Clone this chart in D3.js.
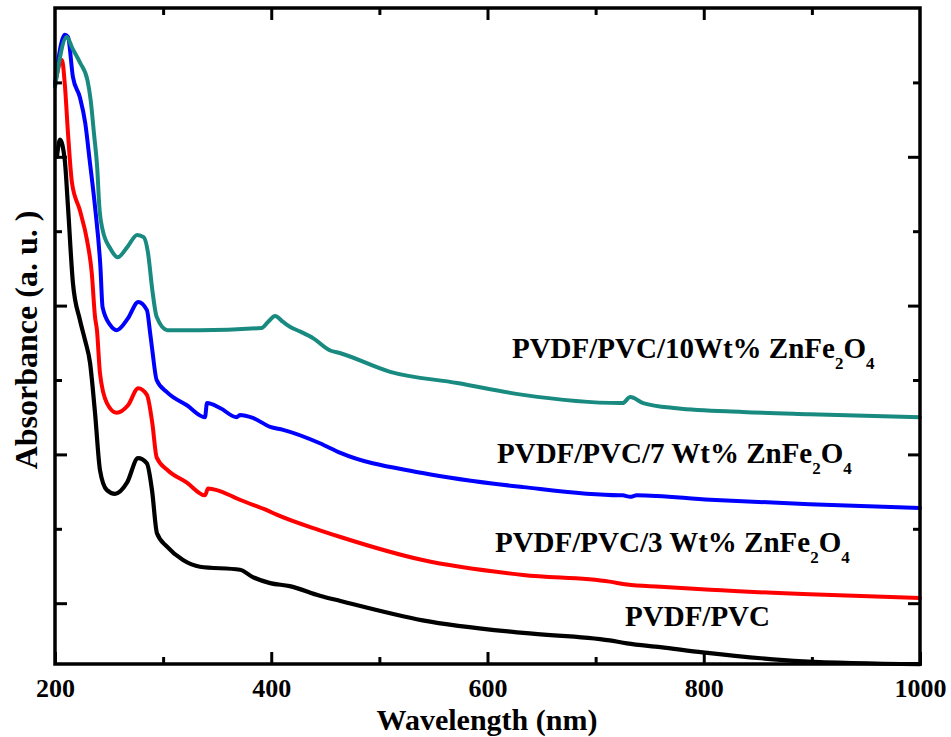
<!DOCTYPE html>
<html>
<head>
<meta charset="utf-8">
<script src="https://cdn.jsdelivr.net/npm/d3@7"></script>
<style>
  body { margin: 0; background: #fff; }
  svg { display: block; }
  text { font-family: "Liberation Serif", "Times New Roman", serif; font-weight: bold; fill: #000; }
</style>
</head>
<body>
<svg id="chart" width="951" height="737"></svg>
<script>
// wavelength (nm) / absorbance (a.u.)
const wlPure = [201.8, 204.6, 209, 212, 216.6, 223, 227.7, 232.4, 237, 241.6, 248, 255.5, 266.6, 276.8, 285, 289.7, 294.3, 303.6, 318.4, 334, 371, 383, 399, 417, 445, 464, 540, 633, 713, 729, 760, 799, 892, 1000];
const absPure = [0.800, 0.823, 0.796, 0.733, 0.630, 0.581, 0.554, 0.523, 0.456, 0.379, 0.352, 0.347, 0.362, 0.395, 0.388, 0.352, 0.294, 0.276, 0.258, 0.249, 0.245, 0.235, 0.227, 0.223, 0.210, 0.203, 0.177, 0.160, 0.150, 0.146, 0.141, 0.134, 0.122, 0.118];

const wl3 = [201, 206.5, 209, 212, 215.7, 223, 229.6, 234, 237, 238.8, 241.6, 248, 257, 267.5, 277, 285, 290, 294, 304, 322, 338.7, 341.5, 365, 371, 396, 405, 445, 464, 540, 633, 713, 729, 760, 806, 898, 1000];
const abs3 = [0.905, 0.930, 0.899, 0.832, 0.765, 0.728, 0.688, 0.644, 0.585, 0.567, 0.509, 0.469, 0.456, 0.466, 0.489, 0.480, 0.442, 0.396, 0.379, 0.362, 0.345, 0.354, 0.343, 0.339, 0.325, 0.319, 0.298, 0.289, 0.258, 0.238, 0.229, 0.225, 0.222, 0.218, 0.212, 0.207];

const wl7 = [200, 209, 212, 216.6, 223, 228, 232, 237, 242, 244, 251, 257, 267.5, 277, 285, 288, 290, 294, 304, 322, 338.7, 340.6, 353, 368, 371, 383, 399, 411, 445, 464, 540, 633, 722, 725, 732, 738, 806, 898, 1000];
const abs7 = [0.897, 0.964, 0.961, 0.907, 0.880, 0.845, 0.796, 0.733, 0.652, 0.598, 0.574, 0.567, 0.583, 0.605, 0.594, 0.563, 0.540, 0.500, 0.483, 0.466, 0.450, 0.469, 0.462, 0.450, 0.453, 0.449, 0.437, 0.433, 0.415, 0.402, 0.375, 0.356, 0.345, 0.345, 0.343, 0.345, 0.339, 0.333, 0.328];

const wl10 = [200, 211, 216, 223, 230, 233, 236, 239, 241, 244, 251, 258, 267, 276, 282, 286, 290, 294, 304, 334, 391, 397, 403.5, 411, 418, 427, 439, 454, 464, 510, 572, 633, 722, 725, 732, 744, 775, 836, 898, 1000];
const abs10 = [0.894, 0.961, 0.946, 0.927, 0.903, 0.876, 0.832, 0.786, 0.733, 0.702, 0.677, 0.665, 0.679, 0.695, 0.692, 0.671, 0.621, 0.585, 0.567, 0.567, 0.570, 0.578, 0.586, 0.578, 0.571, 0.565, 0.556, 0.540, 0.536, 0.511, 0.496, 0.480, 0.469, 0.469, 0.477, 0.469, 0.462, 0.457, 0.454, 0.450];

const xLabels = [200, 400, 600, 800, 1000];
const xMinor = [300, 500, 700, 900];
const yMajor = [0.2, 0.4, 0.6, 0.8];
const yMinor = [0.3, 0.5, 0.7, 0.9];

const series = [
  { name: "PVDF/PVC", wl: wlPure, abs: absPure, color: "#000000", width: 4.2 },
  { name: "3", wl: wl3, abs: abs3, color: "#ff0000", width: 4 },
  { name: "7", wl: wl7, abs: abs7, color: "#0000ff", width: 4 },
  { name: "10", wl: wl10, abs: abs10, color: "#198a80", width: 4 }
];

// label anchors in data space, text split for subscripts
const labels = [
  { at: [622.6, 0.5296], parts: [["PVDF/PVC/10Wt% ZnFe"], ["2", 1], ["O"], ["4", 1]] },
  { at: [608.8, 0.3885], parts: [["PVDF/PVC/7 Wt% ZnFe"], ["2", 1], ["O"], ["4", 1]] },
  { at: [606.9, 0.2688], parts: [["PVDF/PVC/3 Wt% ZnFe"], ["2", 1], ["O"], ["4", 1]] },
  { at: [727.2, 0.1694], parts: [["PVDF/PVC"]] }
];

const svg = d3.select("#chart"),
  pl = 55,
  pr = 920,
  pt = 8,
  pb = 664;

const x = d3.scaleLinear().domain([200, 1000]).range([pl, pr]);
const y = d3.scaleLinear().domain([0.11828, 1.0]).range([pb, pt]);

const line = d3
  .line()
  .x(d => x(d[0]))
  .y(d => y(d[1]))
  .curve(d3.curveMonotoneX);

svg
  .selectAll("path.curve")
  .data(series)
  .enter()
  .append("path")
  .attr("class", "curve")
  .attr("fill", "none")
  .attr("stroke", d => d.color)
  .attr("stroke-width", d => d.width)
  .attr("stroke-linejoin", "round")
  .attr("stroke-linecap", "round")
  .attr("d", d => line(d.wl.map((w, i) => [w, d.abs[i]])));

const styleTicks = g => {
  g.select(".domain").remove();
  g.selectAll(".tick line").attr("stroke", "#000").attr("stroke-width", 3);
};

// bottom
svg
  .append("g")
  .attr("transform", `translate(0,${pb})`)
  .call(
    d3
      .axisBottom(x)
      .tickValues(xLabels)
      .tickFormat(d3.format("d"))
      .tickSizeInner(-12)
      .tickSizeOuter(0)
  )
  .call(styleTicks)
  .call(g =>
    g
      .selectAll(".tick text")
      .attr("y", 33)
      .attr("dy", 0)
      .attr("fill", "#000")
      .style("font-size", "26px")
      .style("font-family", '"Liberation Serif", "Times New Roman", serif')
      .style("font-weight", "bold")
  );
svg
  .append("g")
  .attr("transform", `translate(0,${pb})`)
  .call(d3.axisBottom(x).tickValues(xMinor).tickSize(-7).tickFormat(""))
  .call(styleTicks);

// top
svg
  .append("g")
  .attr("transform", `translate(0,${pt})`)
  .call(d3.axisTop(x).tickValues([400, 600, 800]).tickSize(-12).tickFormat(""))
  .call(styleTicks);
svg
  .append("g")
  .attr("transform", `translate(0,${pt})`)
  .call(d3.axisTop(x).tickValues(xMinor).tickSize(-7).tickFormat(""))
  .call(styleTicks);

// left / right
[
  [d3.axisLeft, pl],
  [d3.axisRight, pr]
].forEach(([ax, pos]) => {
  svg
    .append("g")
    .attr("transform", `translate(${pos},0)`)
    .call(ax(y).tickValues(yMajor).tickSize(-12).tickFormat(""))
    .call(styleTicks);
  svg
    .append("g")
    .attr("transform", `translate(${pos},0)`)
    .call(ax(y).tickValues(yMinor).tickSize(-7).tickFormat(""))
    .call(styleTicks);
});

// frame
svg
  .append("rect")
  .attr("x", pl)
  .attr("y", pt)
  .attr("width", pr - pl)
  .attr("height", pb - pt)
  .attr("fill", "none")
  .attr("stroke", "#000")
  .attr("stroke-width", 3.5);

// axis titles
svg
  .append("text")
  .attr("x", 487)
  .attr("y", 730)
  .attr("text-anchor", "middle")
  .style("font-size", "30px")
  .text("Wavelength (nm)");

svg
  .append("text")
  .attr("transform", `translate(37,${(pt + pb) / 2 + 4}) rotate(-90)`)
  .attr("text-anchor", "middle")
  .style("font-size", "32px")
  .text("Absorbance (a. u. )");

// curve labels
labels.forEach(l => {
  const t = svg
    .append("text")
    .attr("x", x(l.at[0]))
    .attr("y", y(l.at[1]))
    .style("font-size", "29px");
  let shifted = false;
  l.parts.forEach(([s, sub]) => {
    const dy = sub && !shifted ? 11 : !sub && shifted ? -11 : 0;
    shifted = !!sub;
    t.append("tspan")
      .attr("dy", dy)
      .style("font-size", sub ? "17px" : "29px")
      .text(s);
  });
});
</script>
</body>
</html>
